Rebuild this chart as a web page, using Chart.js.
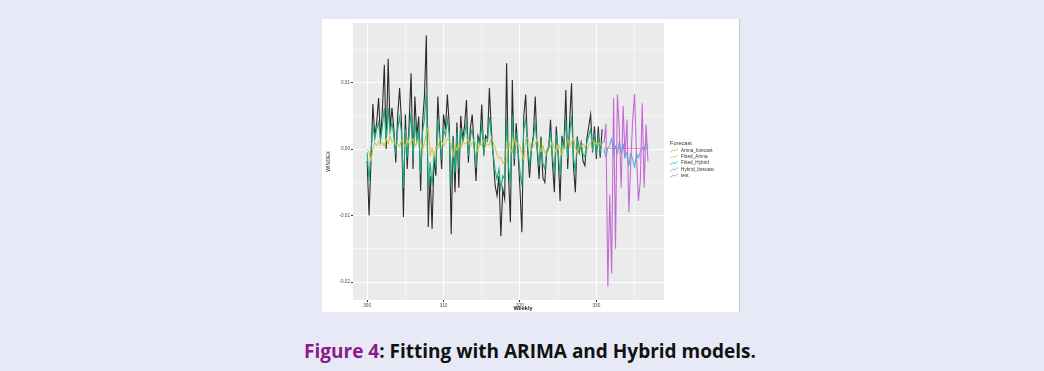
<!DOCTYPE html>
<html>
<head>
<meta charset="utf-8">
<script src="https://cdn.jsdelivr.net/npm/chart.js@4.4.1/dist/chart.umd.min.js"></script>
<style>
  html, body { margin: 0; padding: 0; }
  body { width: 1044px; height: 371px; background: #e7eaf6; position: relative; overflow: hidden; }
  #figure { position: absolute; left: 322px; top: 19px; width: 417px; height: 293px; background: #fff; box-shadow: 1px 0 0 #c8cad2; }
  #caption { position: absolute; left: 0; top: 339px; width: 1060px; text-align: center;
             font-family: "Open Sans", "Noto Sans", sans-serif; font-weight: 700; font-size: 19px; line-height: 24px; color: #111; }
  #caption .fig { color: #8b1a8b; }
</style>
</head>
<body>
<div id="figure"><canvas id="fitChart"></canvas></div>
<div id="caption"><span class="fig">Figure 4</span>: Fitting with ARIMA and Hybrid models.</div>
<script>
// --- DATA ---
const trainStart = 300;   // first week of the fitted period
const testStart = 331;    // first week of the hold-out period
const stepWeeks = 0.25;   // spacing between observations
const xTicks = [300, 310, 320, 330];
const yTicks = [-0.02, -0.01, 0, 0.01];
const xTitle = 'Weekly';
const legendTitle = 'Forecast';
const seriesNames = ['Arima_forecast', 'Fitted_Arima', 'Fitted_Hybrid', 'Hybrid_forecast', 'test'];

const actual = [
  -0.0018, -0.0100, -0.0020, 0.0068, 0.0019, 0.0040, 0.0077, 0.0015, 0.0060, 0.0127,
  0.0000, 0.0136, 0.0032, 0.0062, 0.0030, -0.0020, 0.0050, 0.0092, 0.0039, -0.0102,
  0.0052, -0.0030, 0.0040, 0.0114, -0.0030, 0.0079, 0.0019, 0.0049, -0.0063, 0.0039,
  0.0080, 0.0171, -0.0117, -0.0040, -0.0120, -0.0015, -0.0040, 0.0079, 0.0020, -0.0030,
  0.0052, 0.0030, 0.0082, 0.0035, -0.0128, 0.0020, -0.0065, 0.0040, -0.0058, 0.0050,
  0.0014, 0.0035, 0.0074, -0.0020, 0.0030, 0.0052, 0.0005, -0.0048, 0.0020, 0.0010,
  0.0067, -0.0010, 0.0020, 0.0015, 0.0092, 0.0030, -0.0010, -0.0055, -0.0070, -0.0040,
  -0.0131, -0.0060, -0.0075, 0.0129, -0.0040, -0.0110, 0.0104, -0.0025, 0.0039, -0.0005,
  -0.0060, -0.0125, 0.0049, 0.0082, 0.0000, -0.0043, 0.0000, 0.0020, 0.0079, 0.0000,
  -0.0045, 0.0019, -0.0043, -0.0050, -0.0005, 0.0000, 0.0044, -0.0020, -0.0065, 0.0034,
  -0.0010, -0.0078, 0.0020, 0.0000, 0.0089, -0.0030, 0.0040, 0.0099, -0.0025, -0.0065,
  0.0019, -0.0005, 0.0010, -0.0018, -0.0025, 0.0015, 0.0034, 0.0052, -0.0005, 0.0034,
  -0.0015, 0.0034, -0.0013, 0.0030
];
const fittedHybrid = [
  -0.0005, -0.0048, -0.0005, 0.0037, 0.0015, 0.0030, 0.0040, 0.0012, 0.0035, 0.0062,
  0.0010, 0.0062, 0.0025, 0.0040, 0.0020, -0.0008, 0.0030, 0.0048, 0.0025, -0.0058,
  0.0030, -0.0012, 0.0025, 0.0055, -0.0015, 0.0042, 0.0012, 0.0030, -0.0038, 0.0025,
  0.0045, 0.0089, -0.0060, -0.0020, -0.0055, -0.0010, -0.0025, 0.0045, 0.0015, -0.0015,
  0.0032, 0.0020, 0.0045, 0.0022, -0.0055, 0.0012, -0.0035, 0.0025, -0.0030, 0.0032,
  0.0010, 0.0022, 0.0040, -0.0010, 0.0018, 0.0030, 0.0005, -0.0028, 0.0015, 0.0008,
  0.0038, -0.0005, 0.0012, 0.0012, 0.0048, 0.0020, -0.0008, -0.0032, -0.0045, -0.0030,
  -0.0060, -0.0040, -0.0045, 0.0045, -0.0025, -0.0055, 0.0050, -0.0015, 0.0025, 0.0000,
  -0.0035, -0.0055, 0.0030, 0.0045, 0.0005, -0.0025, 0.0002, 0.0015, 0.0040, 0.0002,
  -0.0025, 0.0012, -0.0022, -0.0030, -0.0002, 0.0003, 0.0028, -0.0010, -0.0035, 0.0022,
  -0.0005, -0.0040, 0.0012, 0.0003, 0.0045, -0.0015, 0.0024, 0.0050, -0.0012, -0.0035,
  0.0012, -0.0002, 0.0008, -0.0008, -0.0012, 0.0010, 0.0020, 0.0030, 0.0000, 0.0020,
  -0.0006, 0.0020, -0.0005, 0.0012
];
const fittedArima = [
  0.0000, -0.0005, -0.0018, 0.0000, 0.0010, 0.0005, 0.0012, 0.0006, 0.0010, 0.0004,
  0.0016, 0.0008, 0.0020, 0.0010, 0.0012, 0.0006, 0.0008, 0.0004, 0.0014, 0.0010,
  0.0002, 0.0018, 0.0006, 0.0010, 0.0016, 0.0004, 0.0010, 0.0008, 0.0012, -0.0002,
  0.0010, 0.0022, 0.0034, -0.0010, 0.0002, -0.0012, 0.0004, 0.0000, 0.0016, 0.0012,
  0.0004, 0.0010, 0.0016, 0.0012, 0.0008, -0.0012, 0.0006, -0.0002, 0.0010, 0.0000,
  0.0012, 0.0008, 0.0010, 0.0016, 0.0004, 0.0010, 0.0014, 0.0006, -0.0004, 0.0008,
  0.0006, 0.0014, 0.0004, 0.0008, 0.0006, 0.0019, 0.0010, 0.0002, -0.0008, -0.0014,
  -0.0012, -0.0022, -0.0018, -0.0020, 0.0014, 0.0002, -0.0006, 0.0018, 0.0004, 0.0010,
  0.0004, -0.0006, -0.0016, 0.0015, 0.0018, 0.0006, -0.0002, 0.0004, 0.0008, 0.0016,
  0.0004, -0.0004, 0.0006, -0.0006, -0.0008, 0.0000, 0.0004, 0.0012, 0.0002, -0.0006,
  0.0008, 0.0002, -0.0010, 0.0004, 0.0002, 0.0016, 0.0004, 0.0010, 0.0018, 0.0002,
  -0.0006, 0.0006, 0.0004, 0.0008, 0.0002, -0.0002, 0.0006, 0.0010, 0.0014, 0.0006,
  0.0012, 0.0006, 0.0010, 0.0004
];
const testActual = [
  0.0010, 0.0038, -0.0207, -0.0068, -0.0187, 0.0077, -0.0150, 0.0082, 0.0030, -0.0058,
  0.0065, -0.0010, 0.0044, -0.0095, -0.0020, 0.0044, 0.0083, -0.0010, -0.0078, -0.0048,
  0.0069, -0.0058, 0.0037, -0.0018
];
const arimaForecast = [
  0.0001, 0.0001, 0.0001, 0.0001, 0.0001, 0.0001, 0.0001, 0.0001, 0.0001, 0.0001,
  0.0001, 0.0001, 0.0001, 0.0001, 0.0001, 0.0001, 0.0001, 0.0001, 0.0001, 0.0001,
  0.0001, 0.0001, 0.0001, 0.0001
];
const hybridForecast = [
  0.0000, -0.0012, 0.0002, 0.0006, 0.0017, -0.0008, 0.0005, -0.0007, 0.0012, -0.0007,
  0.0008, -0.0014, -0.0005, -0.0025, -0.0006, -0.0015, -0.0028, -0.0006, -0.0014, -0.0004,
  0.0003, -0.0002, 0.0011, -0.0001
];

// --- HELPERS ---
const toPoints = (values, start) => values.map((v, i) => ({ x: start + i * stepWeeks, y: v }));
const isOn = (v, list) => list.some(t => Math.abs(t - v) < 1e-9);
const onStep = (v, step) => { const k = v / step; return Math.abs(k - Math.round(k)) < 1e-6; };

const seriesColors = {
  Arima_forecast: '#f08a80',
  Fitted_Arima: '#c9c63a',
  Fitted_Hybrid: '#1fa97d',
  Hybrid_forecast: '#38b2dc',
  test: '#c46ad6'
};
const labelFont = '"Liberation Sans", Arial, sans-serif';

// --- PLUGINS ---
const panelBackground = {
  id: 'panelBackground',
  beforeDraw(chart) {
    const { ctx, chartArea: a } = chart;
    ctx.save();
    ctx.fillStyle = '#ebebeb';
    ctx.fillRect(a.left, a.top, a.right - a.left, a.bottom - a.top);
    ctx.restore();
  }
};

// legend + x title, placed where the original figure has them
const sideLegend = {
  id: 'sideLegend',
  afterDraw(chart) {
    const ctx = chart.ctx;
    const x0 = 348, y0 = 131.5, gap = 6.3;
    ctx.save();
    ctx.textBaseline = 'middle';
    ctx.fillStyle = '#222';
    ctx.textAlign = 'center';
    ctx.font = 'bold 5.6px ' + labelFont;
    ctx.fillText(xTitle, 201, 289);
    ctx.textAlign = 'left';
    ctx.fillStyle = '#333';
    ctx.font = '5.6px ' + labelFont;
    ctx.fillText(legendTitle, x0, 124);
    ctx.font = '4.7px ' + labelFont;
    seriesNames.forEach((name, i) => {
      const y = y0 + i * gap;
      ctx.globalAlpha = 0.7;
      ctx.strokeStyle = seriesColors[name];
      ctx.lineWidth = 1;
      ctx.beginPath();
      ctx.moveTo(x0, y + 2);
      ctx.lineTo(x0 + 3, y - 0.5);
      ctx.lineTo(x0 + 5, y + 0.5);
      ctx.lineTo(x0 + 8, y - 2);
      ctx.stroke();
      ctx.globalAlpha = 1;
      ctx.fillStyle = '#333';
      ctx.fillText(name, x0 + 11, y);
    });
    ctx.restore();
  }
};

// --- CHART ---
const line = (label, values, start, color, width, order) => ({
  label, data: toPoints(values, start), borderColor: color, borderWidth: width,
  pointRadius: 0, tension: 0, fill: false, order
});

const tickFont = { family: labelFont, size: 4.7 };

new Chart(document.getElementById('fitChart'), {
  type: 'line',
  data: {
    datasets: [
      line('test', testActual, testStart, seriesColors.test, 1.1, 1),
      line('Hybrid_forecast', hybridForecast, testStart, seriesColors.Hybrid_forecast, 1, 2),
      line('Arima_forecast', arimaForecast, testStart, seriesColors.Arima_forecast, 1, 3),
      line('Fitted_Arima', fittedArima, trainStart, seriesColors.Fitted_Arima, 1, 4),
      line('Fitted_Hybrid', fittedHybrid, trainStart, seriesColors.Fitted_Hybrid, 1.1, 5),
      line('Actual', actual, trainStart, '#2a2a2a', 1.1, 6)
    ]
  },
  options: {
    responsive: true, maintainAspectRatio: false, animation: false,
    layout: { padding: { left: 0, right: 75, top: 2, bottom: 0 } },
    plugins: { legend: { display: false }, tooltip: { enabled: false } },
    scales: {
      x: {
        type: 'linear', min: 298.15, max: 338.85,
        afterFit: s => { s.height = 12; },
        border: { display: false },
        grid: {
          color: '#ffffff',
          lineWidth: c => onStep(c.tick.value, 10) ? 1 : 0.5,
          tickColor: c => isOn(c.tick.value, xTicks) ? '#333' : 'rgba(0,0,0,0)',
          tickLength: 2
        },
        ticks: {
          stepSize: 5, includeBounds: false, autoSkip: false, maxRotation: 0, padding: 1,
          color: '#4d4d4d', font: tickFont,
          callback: v => isOn(v, xTicks) ? String(Math.round(v)) : ''
        }
      },
      y: {
        type: 'linear', min: -0.0227, max: 0.019,
        afterFit: s => { s.width = 31; },
        border: { display: false },
        grid: {
          color: '#ffffff',
          lineWidth: c => onStep(c.tick.value, 0.01) ? 1 : 0.5,
          tickColor: c => isOn(c.tick.value, yTicks) ? '#333' : 'rgba(0,0,0,0)',
          tickLength: 2
        },
        ticks: {
          stepSize: 0.005, includeBounds: false, autoSkip: false, padding: 1,
          color: '#4d4d4d', font: tickFont,
          callback: v => isOn(v, yTicks) ? (Math.abs(v) < 1e-9 ? '0.00' : v.toFixed(2)) : ''
        },
        title: { display: true, text: 'WINDEX', color: '#222', padding: { top: 3, bottom: 0 },
                 font: { family: labelFont, size: 5.2 } }
      }
    }
  },
  plugins: [panelBackground, sideLegend]
});
</script>
</body>
</html>
